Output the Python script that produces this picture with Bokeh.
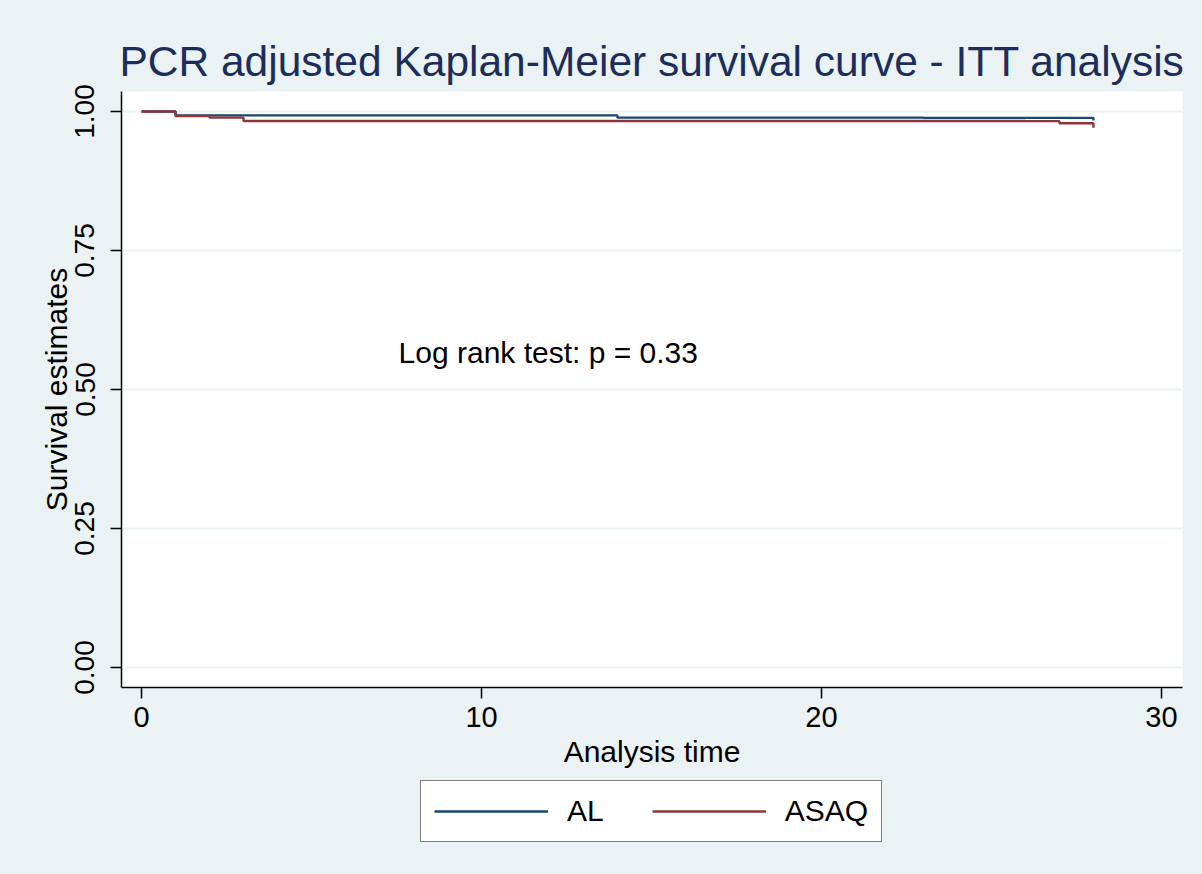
from bokeh.plotting import figure
from bokeh.layouts import column
from bokeh.models import (Range1d, FixedTicker, Legend, LegendItem, Label,
                          PrintfTickFormatter)
from bokeh.embed import file_html
from bokeh.resources import INLINE

# ---- data ----
al_time = [0, 1, 14, 23, 28]
al_surv = [1.0, 0.993, 0.989, 0.9886, 0.984]
asaq_time = [0, 1, 2, 3, 26, 27, 28]
asaq_surv = [1.0, 0.992, 0.989, 0.983, 0.9827, 0.979, 0.971]

x_ticks = [0, 10, 20, 30]
y_ticks = [0.0, 0.25, 0.50, 0.75, 1.00]
series_names = ["AL", "ASAQ"]
series_colors = ["#1a476f", "#90353b"]

title_text = "PCR adjusted Kaplan-Meier survival curve - ITT analysis"
annotation_text = "Log rank test: p = 0.33"

FONT = "Liberation Sans"
BG = "#eaf2f3"
W = 1202
NAN = float("nan")

p = figure(width=W, height=775, output_backend="svg", toolbar_location=None,
           x_range=Range1d(-0.59, 30.62), y_range=Range1d(-0.036, 1.036),
           min_border_left=121, min_border_top=91, min_border_right=20,
           min_border_bottom=88)
p.background_fill_color = "white"
p.border_fill_color = BG
p.outline_line_color = None

p.title.text = title_text
p.title.align = "center"
p.title.text_font = FONT
p.title.text_font_size = "42.5px"
p.title.text_font_style = "normal"
p.title.text_color = "#1c2d5c"
p.title.standoff = 13

# axes
p.xaxis.ticker = FixedTicker(ticks=x_ticks)
p.yaxis.ticker = FixedTicker(ticks=y_ticks)
p.yaxis.formatter = PrintfTickFormatter(format="%.2f")
p.yaxis.major_label_orientation = "vertical"
for ax in (p.xaxis[0], p.yaxis[0]):
    ax.axis_line_color = "black"
    ax.axis_line_width = 1.5
    ax.major_tick_line_color = "black"
    ax.major_tick_line_width = 1.5
    ax.major_tick_out = 11
    ax.major_tick_in = 0
    ax.minor_tick_line_color = None
    ax.major_label_text_font = FONT
    ax.major_label_text_color = "black"
    ax.axis_label_text_font = FONT
    ax.axis_label_text_font_style = "normal"
    ax.axis_label_text_font_size = "30px"
    ax.axis_label_text_color = "black"
p.xaxis.major_label_text_font_size = "29px"
p.yaxis.major_label_text_font_size = "28px"
p.xaxis.axis_label = "Analysis time"
p.yaxis.axis_label = "Survival estimates"
p.xaxis.major_label_standoff = 8
p.yaxis.major_label_standoff = 16
p.xaxis.axis_label_standoff = 5
p.yaxis.axis_label_standoff = 0

p.xgrid.grid_line_color = None
p.ygrid.grid_line_color = BG
p.ygrid.grid_line_width = 2

p.step(al_time, al_surv, mode="after", line_color=series_colors[0], line_width=2.4)
p.step(asaq_time, asaq_surv, mode="after", line_color=series_colors[1], line_width=2.4)

p.add_layout(Label(x=7.56, y=0.5665, text=annotation_text, text_font=FONT,
                   text_font_size="30px", text_color="black",
                   text_baseline="middle"))

# ---- legend strip below the chart (frame is aligned with the chart's frame) ----
q = figure(width=W, height=99, output_backend="svg", toolbar_location=None,
           x_range=Range1d(0, 1), y_range=Range1d(0, 1),
           min_border_left=0, min_border_right=0, min_border_top=0,
           min_border_bottom=0)
q.background_fill_color = None
q.border_fill_color = BG
q.outline_line_color = None
q.axis.visible = False
q.grid.grid_line_color = None
# legend proxies (no visible marks)
leg_renderers = [q.line(x=[NAN], y=[NAN], line_color=c, line_width=2.4)
                 for c in series_colors]

legend = Legend(items=[LegendItem(label=n, renderers=[r])
                       for n, r in zip(series_names, leg_renderers)],
                orientation="horizontal", location=(299, 32),
                label_text_font=FONT, label_text_font_size="30px",
                label_text_color="black",
                glyph_width=114, glyph_height=30, label_standoff=19,
                spacing=48, padding=13, margin=0,
                border_line_color="black", border_line_width=1.5,
                background_fill_color="white", background_fill_alpha=1.0)
q.add_layout(legend)

layout = column(p, q, spacing=0)
layout.styles = {"background-color": BG}
open("out.html", "w").write(file_html(layout, INLINE))
